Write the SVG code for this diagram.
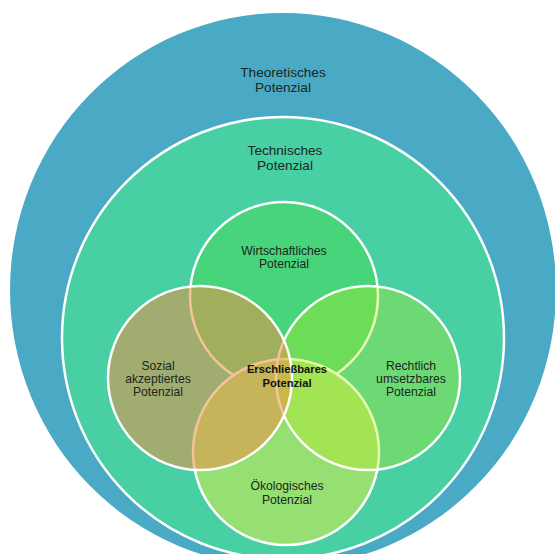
<svg xmlns="http://www.w3.org/2000/svg" width="555" height="554" viewBox="0 0 555 554">
<style>
text{font-family:"Liberation Sans",Arial,sans-serif;fill:#1b2620;text-anchor:middle}
.big{font-size:13.6px}
.mid{font-size:12.2px}
.bold{font-size:11.2px;font-weight:bold;fill:#111}
.ring{stroke:#fff;stroke-width:2.5}
</style>
<rect width="555" height="554" fill="#fff"/>
<g id="theoretisch">
<ellipse cx="283" cy="290" rx="273" ry="277" fill="#4aa9c5"/>
<text class="big" x="283" y="77">Theoretisches</text>
<text class="big" x="283" y="92">Potenzial</text>
</g>
<g id="technisch">
<circle class="ring" cx="283" cy="338" r="221" fill="#48cfa3"/>
<text class="big" x="285" y="155">Technisches</text>
<text class="big" x="285" y="170">Potenzial</text>
</g>
<g id="wirtschaftlich">
<circle class="ring" cx="284" cy="296" r="94" fill="#48d47b"/>
<text class="mid" x="284" y="255">Wirtschaftliches</text>
<text class="mid" x="284" y="268">Potenzial</text>
</g>
<g id="oekologisch">
<circle class="ring" cx="286" cy="452" r="93" fill="#96df73"/>
<text class="mid" x="287" y="490">Ökologisches</text>
<text class="mid" x="287" y="504">Potenzial</text>
</g>
<g id="rechtlich">
<circle class="ring" cx="368" cy="378" r="92" fill="rgb(190,240,20)" fill-opacity="0.32"/>
<text class="mid" x="411" y="370">Rechtlich</text>
<text class="mid" x="411" y="383">umsetzbares</text>
<text class="mid" x="411" y="396">Potenzial</text>
</g>
<g id="sozial">
<circle class="ring" cx="200" cy="378" r="92" fill="rgb(236,145,69)" fill-opacity="0.54"/>
<text class="mid" x="158" y="370">Sozial</text>
<text class="mid" x="158" y="383">akzeptiertes</text>
<text class="mid" x="158" y="396">Potenzial</text>
</g>
<g id="erschliessbar">
<text class="bold" x="287" y="373">Erschließbares</text>
<text class="bold" x="287" y="387">Potenzial</text>
</g>
<g id="connectors"/>
</svg>
